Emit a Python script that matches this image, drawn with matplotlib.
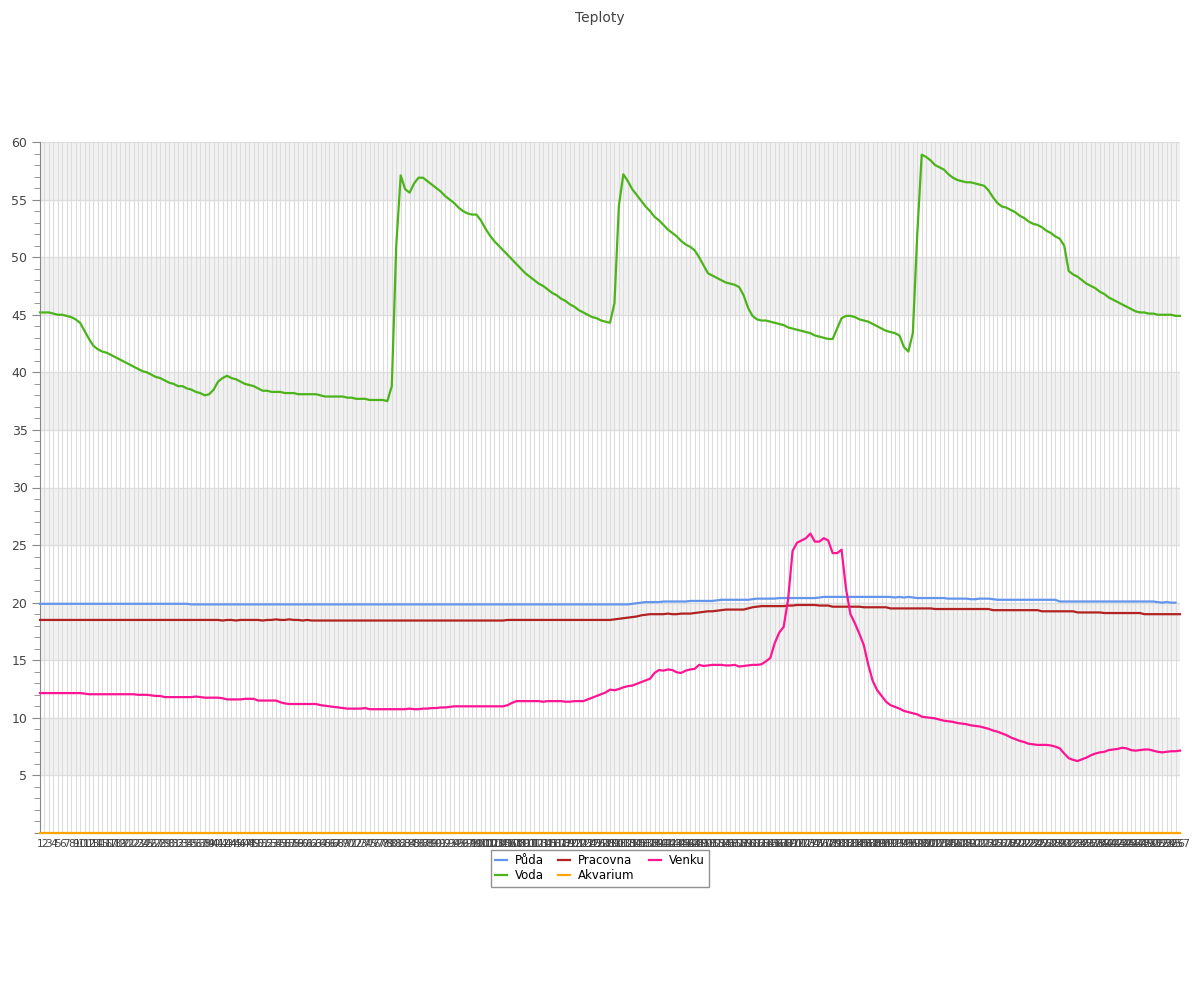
import matplotlib
matplotlib.use("Agg")
import matplotlib.pyplot as plt
from matplotlib.ticker import MultipleLocator, FixedLocator

voda = [
    45.2, 45.2, 45.2, 45.1, 45.0, 45.0, 44.9, 44.8, 44.6, 44.3,
    43.6, 42.9, 42.3, 42.0, 41.8, 41.7, 41.5, 41.3, 41.1, 40.9,
    40.7, 40.5, 40.3, 40.1, 40.0, 39.8, 39.6, 39.5, 39.3, 39.1,
    39.0, 38.8, 38.8, 38.6, 38.5, 38.3, 38.2, 38.0, 38.1, 38.5,
    39.2, 39.5, 39.7, 39.5, 39.4, 39.2, 39.0, 38.9, 38.8, 38.6,
    38.4, 38.4, 38.3, 38.3, 38.3, 38.2, 38.2, 38.2, 38.1, 38.1,
    38.1, 38.1, 38.1, 38.0, 37.9, 37.9, 37.9, 37.9, 37.9, 37.8,
    37.8, 37.7, 37.7, 37.7, 37.6, 37.6, 37.6, 37.6, 37.5, 38.8,
    51.0, 57.1, 55.9, 55.6, 56.4, 56.9, 56.9, 56.6, 56.3, 56.0,
    55.7, 55.3, 55.0, 54.7, 54.3, 54.0, 53.8, 53.7, 53.7, 53.2,
    52.5, 51.9, 51.4, 51.0, 50.6, 50.2, 49.8, 49.4, 49.0, 48.6,
    48.3, 48.0, 47.7, 47.5, 47.2, 46.9, 46.7, 46.4, 46.2, 45.9,
    45.7, 45.4, 45.2, 45.0, 44.8, 44.7, 44.5, 44.4, 44.3, 46.0,
    54.5, 57.2, 56.6, 55.9, 55.4, 54.9, 54.4, 54.0, 53.5, 53.2,
    52.8, 52.4, 52.1, 51.8, 51.4, 51.1, 50.9, 50.6, 50.0, 49.3,
    48.6, 48.4, 48.2, 48.0, 47.8, 47.7, 47.6, 47.4, 46.7, 45.6,
    44.9, 44.6, 44.5, 44.5, 44.4, 44.3, 44.2, 44.1, 43.9, 43.8,
    43.7, 43.6, 43.5, 43.4, 43.2, 43.1, 43.0, 42.9, 42.9, 43.8,
    44.7, 44.9, 44.9, 44.8, 44.6, 44.5, 44.4, 44.2, 44.0, 43.8,
    43.6, 43.5, 43.4, 43.2, 42.2, 41.8, 43.4, 52.0, 58.9, 58.7,
    58.4, 58.0, 57.8, 57.6, 57.2, 56.9, 56.7, 56.6, 56.5, 56.5,
    56.4, 56.3, 56.2, 55.8, 55.2, 54.7, 54.4, 54.3, 54.1, 53.9,
    53.6, 53.4, 53.1, 52.9, 52.8, 52.6, 52.3, 52.1, 51.8, 51.6,
    51.0, 48.8, 48.5, 48.3, 48.0, 47.7, 47.5, 47.3, 47.0, 46.8,
    46.5, 46.3, 46.1, 45.9, 45.7, 45.5, 45.3, 45.2, 45.2, 45.1,
    45.1, 45.0, 45.0, 45.0, 45.0, 44.9, 44.9,
]

venku = [
    12.15, 12.15, 12.15, 12.15, 12.15, 12.15, 12.15, 12.15, 12.15, 12.15,
    12.1, 12.05, 12.05, 12.05, 12.05, 12.05, 12.05, 12.05, 12.05, 12.05,
    12.05, 12.05, 12.0, 12.0, 12.0, 11.95, 11.9, 11.9, 11.8, 11.8,
    11.8, 11.8, 11.8, 11.8, 11.8, 11.85, 11.8, 11.75, 11.75, 11.75,
    11.75, 11.7, 11.6, 11.6, 11.6, 11.6, 11.65, 11.65, 11.65, 11.5,
    11.5, 11.5, 11.5, 11.5, 11.35, 11.25, 11.2, 11.2, 11.2, 11.2,
    11.2, 11.2, 11.2, 11.1, 11.05, 11.0, 10.95, 10.9, 10.85, 10.8,
    10.8, 10.8, 10.8, 10.85, 10.75, 10.75, 10.75, 10.75, 10.75, 10.75,
    10.75, 10.75, 10.75, 10.8, 10.75, 10.75, 10.8, 10.8, 10.85, 10.85,
    10.9, 10.9, 10.95, 11.0, 11.0, 11.0, 11.0, 11.0, 11.0, 11.0,
    11.0, 11.0, 11.0, 11.0, 11.0, 11.1, 11.3, 11.45, 11.45, 11.45,
    11.45, 11.45, 11.45, 11.4, 11.45, 11.45, 11.45, 11.45, 11.4, 11.4,
    11.45, 11.45, 11.45, 11.6, 11.75, 11.9, 12.05, 12.2, 12.45, 12.4,
    12.5, 12.65, 12.75, 12.8, 12.95, 13.1, 13.25, 13.4, 13.9, 14.15,
    14.1, 14.2, 14.15, 13.95, 13.9, 14.1, 14.2, 14.25, 14.6, 14.5,
    14.55, 14.6, 14.6, 14.6, 14.55, 14.55, 14.6, 14.45, 14.5, 14.55,
    14.6, 14.6, 14.65, 14.9, 15.2, 16.5, 17.4, 17.9, 20.3, 24.5,
    25.2, 25.4, 25.6, 26.0, 25.3, 25.3, 25.6, 25.4, 24.3, 24.3,
    24.6, 21.2, 19.0, 18.2, 17.3, 16.3, 14.6, 13.2, 12.4, 11.9,
    11.4, 11.1, 10.95, 10.8, 10.6, 10.5, 10.4, 10.3, 10.1, 10.05,
    10.0, 9.95, 9.85, 9.75, 9.7, 9.65, 9.55, 9.5, 9.45, 9.35,
    9.3, 9.25, 9.15, 9.05, 8.9, 8.8, 8.65, 8.5, 8.3, 8.15,
    8.0, 7.9, 7.75, 7.7, 7.65, 7.65, 7.65, 7.6, 7.5, 7.35,
    6.9, 6.5, 6.35, 6.25, 6.4, 6.55, 6.75, 6.9, 7.0, 7.05,
    7.2, 7.25, 7.3, 7.4, 7.35, 7.2, 7.15, 7.2, 7.25, 7.25,
    7.15, 7.05, 7.0, 7.05, 7.1, 7.1, 7.15,
]

puda = (
    [19.9] * 34 + [19.85] * 99
    + [19.9, 19.95, 20.0, 20.05, 20.05, 20.05, 20.05, 20.1, 20.1, 20.1,
       20.1, 20.1, 20.1, 20.15, 20.15, 20.15, 20.15, 20.15, 20.15, 20.2,
       20.25, 20.25, 20.25, 20.25, 20.25, 20.25, 20.25, 20.3, 20.35, 20.35,
       20.35, 20.35, 20.35, 20.4, 20.4, 20.4, 20.4, 20.4, 20.4, 20.4,
       20.4, 20.4, 20.45]
    + [20.5] * 16
    + [20.45, 20.5, 20.45, 20.5, 20.45, 20.4, 20.4, 20.4, 20.4, 20.4,
       20.4, 20.4, 20.35, 20.35, 20.35, 20.35, 20.35, 20.3, 20.3, 20.35,
       20.35, 20.35, 20.3]
    + [20.25] * 14
    + [20.1] * 22
    + [20.05, 20.0, 20.05, 20.0, 20.0]
)

pracovna = (
    [18.5] * 41
    + [18.45, 18.5, 18.5, 18.45, 18.5, 18.5, 18.5, 18.5, 18.5, 18.45,
       18.5, 18.5, 18.55, 18.5, 18.5, 18.55, 18.5, 18.5, 18.45, 18.5]
    + [18.45] * 44
    + [18.5] * 24
    + [18.55, 18.6, 18.65, 18.7, 18.75, 18.8, 18.9, 18.95, 19.0, 19.0,
       19.0, 19.0, 19.05, 19.0, 19.0, 19.05, 19.05, 19.05, 19.1, 19.15,
       19.2, 19.25, 19.25, 19.3, 19.35, 19.4, 19.4, 19.4, 19.4, 19.4,
       19.5, 19.6, 19.65, 19.7, 19.7, 19.7, 19.7, 19.7, 19.7, 19.75,
       19.75, 19.8, 19.8, 19.8, 19.8, 19.8, 19.75, 19.75, 19.75]
    + [19.65] * 7 + [19.6] * 6 + [19.5] * 10 + [19.45] * 13
    + [19.35] * 11 + [19.25] * 8 + [19.15] * 6 + [19.1] * 9 + [19.0] * 9
)

akvarium = [0.0] * len(voda)

labels = [str(i) for i in range(1, len(voda) + 1)]
series_names = ["Půda", "Voda", "Pracovna", "Akvarium", "Venku"]
series_data = [puda, voda, pracovna, akvarium, venku]
series_colors = ["#6495ED", "#4CB41A", "#B22222", "#FFA500", "#FF1493"]

plt.rcParams["font.family"] = ["DejaVu Sans"]
fig = plt.figure(figsize=(12, 10), dpi=100)
ax = fig.add_axes([40 / 1200, 1 - 833 / 1000, 1140 / 1200, 691 / 1000])

n = len(voda)
x = list(range(n))

# alternating bands
for lo in range(5, 60, 10):
    ax.axhspan(lo, lo + 5, color="#f2f2f2", zorder=0, lw=0)
for yv in range(5, 61, 5):
    ax.axhline(yv, color="#dedede", lw=1, zorder=0.5)
for xv in x:
    ax.axvline(xv, color="#dcdcdc", lw=0.8, zorder=0.6)

handles = []
for name, data, col in zip(series_names, series_data, series_colors):
    h, = ax.plot(range(len(data)), data, color=col, lw=1.6, label=name, zorder=3,
                 solid_joinstyle="round", clip_on=False)
    handles.append(h)

ax.set_xlim(0, n - 1)
ax.set_ylim(0, 60)

ax.yaxis.set_major_locator(FixedLocator(list(range(5, 61, 5))))
ax.yaxis.set_minor_locator(MultipleLocator(1))
ax.tick_params(axis="y", which="major", length=6, color="#888888", labelsize=9,
               labelcolor="#444444", pad=3)
ax.tick_params(axis="y", which="minor", length=4, color="#888888")
ax.set_xticks(x)
ax.set_xticklabels(labels, fontsize=7.5, color="#444444")
ax.tick_params(axis="x", length=0, pad=4)

for s in ["top", "right"]:
    ax.spines[s].set_visible(False)
ax.spines["left"].set_color("#888888")
ax.spines["bottom"].set_color("#888888")
ax.spines["bottom"].set_bounds(-1.1, n - 1)

fig.text(0.5, 0.989, "Teploty", ha="center", va="top", fontsize=10, color="#444444")

leg = fig.legend(handles=handles, labels=series_names, loc="upper center",
                 bbox_to_anchor=(0.5, 0.150), ncol=3, fontsize=8.5, frameon=True,
                 fancybox=False, edgecolor="#777777", handlelength=1.0,
                 columnspacing=1.2, borderpad=0.35, labelspacing=0.2,
                 handletextpad=0.7, borderaxespad=0)
leg.get_frame().set_linewidth(1.0)

fig.savefig("out.png", dpi=100, facecolor="white")
